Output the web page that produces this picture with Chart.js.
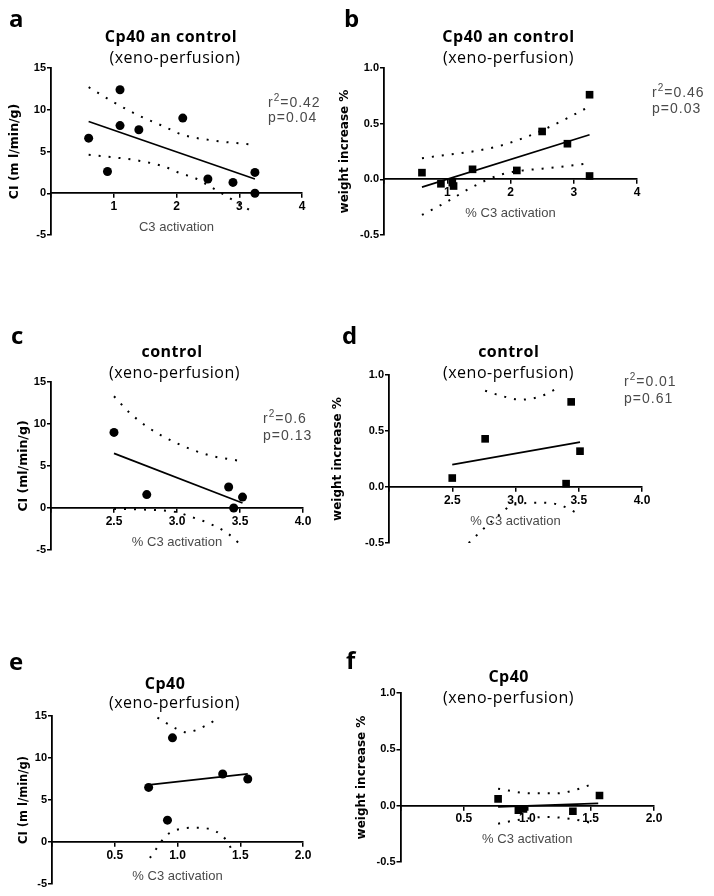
<!DOCTYPE html>
<html>
<head>
<meta charset="utf-8">
<script src="https://cdn.jsdelivr.net/npm/chart.js@4.4.1/dist/chart.umd.min.js"></script>
<style>
  body { margin: 0; width: 714px; height: 896px; background: #fff; position: relative; overflow: hidden; }
  canvas { position: absolute; }
</style>
</head>
<body>
<canvas id="chartA" width="330" height="300" style="left:0;top:0"></canvas>
<canvas id="chartB" width="384" height="300" style="left:330px;top:0"></canvas>
<canvas id="chartC" width="330" height="300" style="left:0;top:300px"></canvas>
<canvas id="chartD" width="384" height="300" style="left:330px;top:300px"></canvas>
<canvas id="chartE" width="330" height="296" style="left:0;top:600px"></canvas>
<canvas id="chartF" width="384" height="296" style="left:330px;top:600px"></canvas>
<script>
// === DATI ===
// a: Cp40 an control, CI
const aX = [0.6, 0.9, 1.1, 1.1, 1.4, 2.1, 2.5, 2.9, 3.25, 3.25];
const aY = [6.6, 2.6, 12.4, 8.1, 7.6, 9.0, 1.7, 1.3, 2.5, 0.0];
const aFitX = [0.6, 3.25];
const aFitY = [8.6, 1.7];
const aUpX = [0.6, 1.0, 1.4, 1.8, 2.1, 2.6, 3.25];
const aUpY = [12.7, 10.9, 9.3, 8.0, 7.0, 6.3, 5.8];
const aLoX = [0.6, 1.0, 1.4, 1.8, 2.06, 2.3, 2.56, 2.85, 3.25];
const aLoY = [4.6, 4.3, 3.9, 3.2, 2.4, 1.8, 0.7, -0.6, -2.4];

// b: Cp40 an control, weight
const bX = [0.6, 0.9, 1.08, 1.1, 1.4, 2.1, 2.5, 2.9, 3.25, 3.25];
const bY = [0.06, -0.04, -0.03, -0.06, 0.09, 0.08, 0.43, 0.32, 0.76, 0.03];
const bFitX = [0.6, 3.25];
const bFitY = [-0.07, 0.40];
const bUpX = [0.6, 1.0, 1.4, 1.83, 2.2, 2.5, 2.9, 3.2];
const bUpY = [0.19, 0.22, 0.25, 0.30, 0.37, 0.44, 0.55, 0.64];
const bLoX = [0.6, 1.0, 1.36, 1.83, 2.2, 2.5, 2.9, 3.2];
const bLoY = [-0.32, -0.20, -0.08, 0.04, 0.08, 0.095, 0.12, 0.14];

// c: control, CI
const cX = [2.5, 2.76, 3.41, 3.45, 3.52];
const cY = [9.0, 1.6, 2.5, 0.0, 1.3];
const cFitX = [2.5, 3.52];
const cFitY = [6.5, 0.6];
const cUpX = [2.5, 2.62, 2.76, 3.0, 3.25, 3.5];
const cUpY = [13.3, 11.4, 9.7, 7.7, 6.3, 5.6];
const cLoX = [2.5, 2.76, 3.0, 3.1, 3.25, 3.4, 3.5];
const cLoY = [-0.1, -0.2, -0.5, -1.0, -1.8, -3.0, -4.3];

// d: control, weight
const dX = [2.5, 2.76, 3.40, 3.44, 3.51];
const dY = [0.08, 0.43, 0.03, 0.76, 0.32];
const dFitX = [2.5, 3.51];
const dFitY = [0.20, 0.40];
const dUpX = [2.76, 2.87, 3.04, 3.2, 3.31];
const dUpY = [0.86, 0.82, 0.78, 0.81, 0.87];
const dLoX = [2.63, 2.75, 2.87, 2.98, 3.2, 3.35, 3.5];
const dLoY = [-0.50, -0.37, -0.25, -0.16, -0.14, -0.16, -0.24];

// e: Cp40, CI
const eX = [0.77, 0.92, 0.96, 1.36, 1.56];
const eY = [6.5, 2.6, 12.4, 8.1, 7.5];
const eFitX = [0.77, 1.56];
const eFitY = [6.8, 8.1];
const eUpX = [0.84, 0.99, 1.07, 1.23, 1.33];
const eUpY = [14.8, 13.5, 13.05, 13.9, 14.8];
const eLoX = [0.78, 0.93, 1.15, 1.36, 1.45];
const eLoY = [-1.9, 1.0, 1.7, 0.7, -1.3];

// f: Cp40, weight
const fX = [0.77, 0.93, 0.97, 1.36, 1.57];
const fY = [0.06, -0.04, -0.03, -0.05, 0.09];
const fFitX = [0.77, 1.56];
const fFitY = [-0.01, 0.02];
const fUpX = [0.77, 1.02, 1.23, 1.41, 1.53];
const fUpY = [0.15, 0.11, 0.11, 0.15, 0.20];
const fLoX = [0.77, 0.91, 1.15, 1.36, 1.53];
const fLoY = [-0.16, -0.13, -0.10, -0.12, -0.16];

// tick
const ciTicks = [-5, 0, 5, 10, 15];
const weightTicks = [-0.5, 0.0, 0.5, 1.0];

const toPoints = (xs, ys) => xs.map((x, i) => ({ x: x, y: ys[i] }));

// testi sopra al grafico (lettera, titolo, r2/p)
const textPlugin = {
  id: 'panelTexts',
  afterDraw(chart, args, opts) {
    const ctx = chart.ctx;
    ctx.save();
    ctx.textBaseline = 'alphabetic';
    ctx.fillStyle = '#000';
    ctx.textAlign = 'left';
    ctx.font = 'bold 24px "Open Sans"';
    ctx.fillText(opts.letter, opts.letterPos[0], opts.letterPos[1]);

    ctx.textAlign = 'center';
    ctx.letterSpacing = '0.5px';
    ctx.font = 'bold 16px "Open Sans"';
    ctx.fillText(opts.title, opts.titlePos[0], opts.titlePos[1]);
    ctx.font = '16px "Open Sans"';
    ctx.fillText('(xeno-perfusion)', opts.subPos[0], opts.subPos[1]);

    if (opts.stats) {
      const [sx, sy, sy2] = opts.statPos;
      ctx.textAlign = 'left';
      ctx.fillStyle = '#4a4a4a';
      ctx.letterSpacing = '1px';
      ctx.font = '14px "Liberation Sans"';
      ctx.fillText('r', sx, sy);
      let w = ctx.measureText('r').width;
      ctx.font = '10px "Liberation Sans"';
      ctx.fillText('2', sx + w, sy - 6);
      w += ctx.measureText('2').width;
      ctx.font = '14px "Liberation Sans"';
      ctx.fillText('=' + opts.stats[0], sx + w, sy);
      ctx.fillText('p=' + opts.stats[1], sx, sy2);
    }
    ctx.restore();
  }
};

function creaPannello(id, cfg) {
  const canvas = document.getElementById(id);
  const area = cfg.area; // [left, top, right, bottom] locali
  const yLeft = cfg.yTitleX - cfg.yTitleSize * 0.6;
  const series = [
    {
      data: toPoints(cfg.x, cfg.y),
      pointStyle: cfg.marker,
      pointRadius: cfg.marker === 'rect' ? 5.4 : 4.5,
      backgroundColor: '#000',
      borderColor: '#000',
      borderWidth: 0,
      showLine: false,
      order: 0
    },
    {
      data: toPoints(cfg.fitX, cfg.fitY),
      showLine: true,
      borderColor: '#000',
      borderWidth: 1.7,
      pointRadius: 0,
      order: 1
    },
    {
      data: toPoints(cfg.upX, cfg.upY),
      showLine: true,
      borderColor: '#000',
      borderWidth: 2,
      borderDash: [2, 8],
      cubicInterpolationMode: 'monotone',
      pointRadius: 0,
      order: 2
    },
    {
      data: toPoints(cfg.loX, cfg.loY),
      showLine: true,
      borderColor: '#000',
      borderWidth: 2,
      borderDash: [2, 8],
      cubicInterpolationMode: 'monotone',
      pointRadius: 0,
      order: 2
    }
  ];

  return new Chart(canvas.getContext('2d'), {
    type: 'scatter',
    data: { datasets: series },
    plugins: [textPlugin],
    options: {
      responsive: false,
      animation: false,
      devicePixelRatio: 1,
      layout: {
        padding: {
          left: yLeft,
          top: area[1],
          right: canvas.width - area[2],
          bottom: canvas.height - area[3]
        }
      },
      plugins: {
        legend: { display: false },
        tooltip: { enabled: false },
        panelTexts: cfg.texts
      },
      scales: {
        x: {
          type: 'linear',
          position: { y: 0 },
          min: cfg.xMin,
          max: cfg.xMax,
          afterBuildTicks: s => { s.ticks = cfg.xTicks.map(v => ({ value: v })); },
          ticks: {
            autoSkip: false,
            maxRotation: 0,
            color: '#000',
            padding: 2,
            font: { size: 12, weight: 'bold' },
            callback: v => (v === cfg.xMin ? '' : v.toFixed(cfg.xDec))
          },
          grid: { drawOnChartArea: false, drawTicks: true, tickLength: 4, color: '#000', lineWidth: 1.5 },
          border: { display: true, color: '#000', width: 1.8 },
          title: {
            display: true,
            text: cfg.xTitle,
            color: '#4a4a4a',
            font: { size: 13 },
            padding: { top: 4, bottom: 0 }
          }
        },
        y: {
          type: 'linear',
          position: 'left',
          min: cfg.yTicks[0],
          max: cfg.yTicks[cfg.yTicks.length - 1],
          afterBuildTicks: s => { s.ticks = cfg.yTicks.map(v => ({ value: v })); },
          afterFit: s => { s.width = area[0] - yLeft; },
          ticks: {
            color: '#000',
            padding: 1,
            font: { size: 11, weight: 'bold' },
            callback: v => v.toFixed(cfg.yDec)
          },
          grid: { drawOnChartArea: false, drawTicks: true, tickLength: 4, color: '#000', lineWidth: 1.5 },
          border: { display: true, color: '#000', width: 1.8 },
          title: {
            display: true,
            text: cfg.yTitle,
            color: '#000',
            font: { family: 'DejaVu Sans', size: cfg.yTitleSize, weight: 'bold' },
            padding: 0
          }
        }
      }
    }
  });
}

window.addEventListener('DOMContentLoaded', () => {
  Chart.defaults.font.family = '"Liberation Sans", Arial, sans-serif';

  creaPannello('chartA', {
    x: aX, y: aY, fitX: aFitX, fitY: aFitY, upX: aUpX, upY: aUpY, loX: aLoX, loY: aLoY,
    marker: 'circle', area: [51, 68, 302, 235], yTitleX: 15, yTitleSize: 12.5,
    xMin: 0, xMax: 4, xTicks: [0, 1, 2, 3, 4], xDec: 0, yTicks: ciTicks, yDec: 0,
    xTitle: 'C3 activation', yTitle: 'CI (m l/min/g)',
    texts: { letter: 'a', letterPos: [9, 27], title: 'Cp40 an control', titlePos: [171, 42], subPos: [175, 63],
      stats: ['0.42', '0.04'], statPos: [268, 107, 122] }
  });
  creaPannello('chartB', {
    x: bX, y: bY, fitX: bFitX, fitY: bFitY, upX: bUpX, upY: bUpY, loX: bLoX, loY: bLoY,
    marker: 'rect', area: [54, 68, 307, 235], yTitleX: 15, yTitleSize: 12,
    xMin: 0, xMax: 4, xTicks: [0, 1, 2, 3, 4], xDec: 0, yTicks: weightTicks, yDec: 1,
    xTitle: '% C3 activation', yTitle: 'weight increase %',
    texts: { letter: 'b', letterPos: [14, 27], title: 'Cp40 an control', titlePos: [178.5, 42], subPos: [178.5, 63],
      stats: ['0.46', '0.03'], statPos: [322, 97, 113] }
  });
  creaPannello('chartC', {
    x: cX, y: cY, fitX: cFitX, fitY: cFitY, upX: cUpX, upY: cUpY, loX: cLoX, loY: cLoY,
    marker: 'circle', area: [51, 82, 303, 250], yTitleX: 24, yTitleSize: 12.5,
    xMin: 2, xMax: 4, xTicks: [2, 2.5, 3, 3.5, 4], xDec: 1, yTicks: ciTicks, yDec: 0,
    xTitle: '% C3 activation', yTitle: 'CI (ml/min/g)',
    texts: { letter: 'c', letterPos: [11, 44], title: 'control', titlePos: [172, 57], subPos: [174.5, 78],
      stats: ['0.6', '0.13'], statPos: [263, 123, 140] }
  });
  creaPannello('chartD', {
    x: dX, y: dY, fitX: dFitX, fitY: dFitY, upX: dUpX, upY: dUpY, loX: dLoX, loY: dLoY,
    marker: 'rect', area: [59, 75, 312, 243], yTitleX: 8, yTitleSize: 12,
    xMin: 2, xMax: 4, xTicks: [2, 2.5, 3, 3.5, 4], xDec: 1, yTicks: weightTicks, yDec: 1,
    xTitle: '% C3 activation', yTitle: 'weight increase %',
    texts: { letter: 'd', letterPos: [12, 44], title: 'control', titlePos: [178.7, 57], subPos: [178.5, 78],
      stats: ['0.01', '0.61'], statPos: [294, 86, 103] }
  });
  creaPannello('chartE', {
    x: eX, y: eY, fitX: eFitX, fitY: eFitY, upX: eUpX, upY: eUpY, loX: eLoX, loY: eLoY,
    marker: 'circle', area: [52, 116, 303, 284], yTitleX: 24, yTitleSize: 11.5,
    xMin: 0, xMax: 2, xTicks: [0, 0.5, 1, 1.5, 2], xDec: 1, yTicks: ciTicks, yDec: 0,
    xTitle: '% C3 activation', yTitle: 'CI (m l/min/g)',
    texts: { letter: 'e', letterPos: [9, 70], title: 'Cp40', titlePos: [165, 89], subPos: [174.5, 108] }
  });
  creaPannello('chartF', {
    x: fX, y: fY, fitX: fFitX, fitY: fFitY, upX: fUpX, upY: fUpY, loX: fLoX, loY: fLoY,
    marker: 'rect', area: [70.5, 93, 324, 262], yTitleX: 32, yTitleSize: 12,
    xMin: 0, xMax: 2, xTicks: [0, 0.5, 1, 1.5, 2], xDec: 1, yTicks: weightTicks, yDec: 1,
    xTitle: '% C3 activation', yTitle: 'weight increase %',
    texts: { letter: 'f', letterPos: [16, 69], title: 'Cp40', titlePos: [178.7, 82], subPos: [178.5, 103] }
  });
});
</script>
</body>
</html>
